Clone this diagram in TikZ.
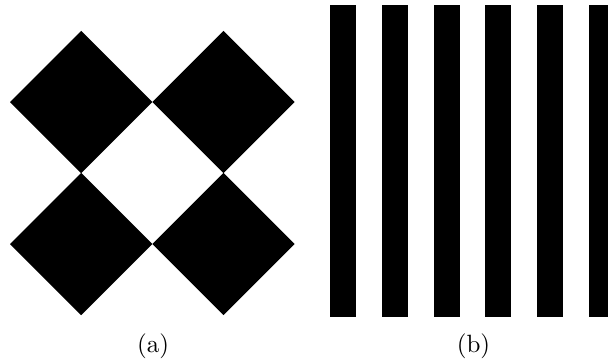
\documentclass[tikz,border=0pt]{standalone}
\begin{document}
\begin{tikzpicture}[x=0.4pt,y=-0.4pt,
  blk/.style={fill=black,draw=none},
  lbl/.style={anchor=base,inner sep=0pt,font=\normalsize}]
\useasboundingbox (0,0) rectangle (608,360);
% diamonds
\foreach \cx/\cy in {81.2/102, 223.5/102, 81.2/244, 223.5/244}{
  \fill[blk] (\cx-71.2,\cy) -- (\cx,\cy-71.2) -- (\cx+71.2,\cy) -- (\cx,\cy+71.2) -- cycle;
}
% stripes
\foreach \k in {0,...,5}{
  \fill[blk] ({330+51.8*\k},5) rectangle ({min(330+51.8*\k+26,608)},316.7);
}
\node[lbl] (la) at (153,352) {(a)};
\node[lbl] (lb) at (473.5,352) {(b)};
\end{tikzpicture}
\end{document}
